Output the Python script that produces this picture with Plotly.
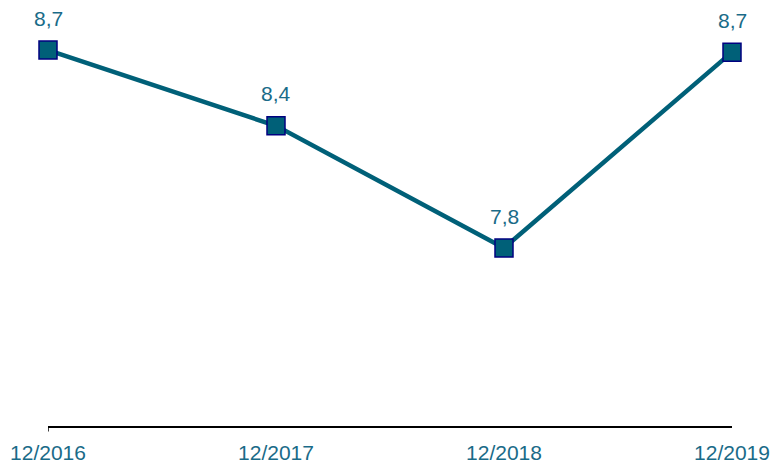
import plotly.graph_objects as go

categories = ["12/2016", "12/2017", "12/2018", "12/2019"]
values = [8.74, 8.38, 7.80, 8.73]

LINE = "#006078"
TEXT = "#1a6b88"
FONT = "Liberation Sans, Arial, sans-serif"

xs = list(range(len(categories)))

fig = go.Figure()
fig.add_trace(go.Scatter(
    x=xs, y=values,
    mode="lines+markers",
    line=dict(color=LINE, width=4.5),
    marker=dict(symbol="square", size=18, color=LINE, line=dict(color="#000080", width=1.5)),
    cliponaxis=False, hoverinfo="skip",
))
for x, v in zip(xs, values):
    fig.add_annotation(x=x, y=v, text=f"{v:.1f}".replace(".", ","), showarrow=False,
                       yshift=32, font=dict(family=FONT, size=21, color=TEXT))
fig.add_shape(type="line", xref="x", yref="paper", x0=0, x1=0, y0=0, y1=-0.013,
              line=dict(color="black", width=1.5))
fig.update_layout(
    width=774, height=463, separators=", ",
    margin=dict(l=48, r=42, t=10, b=37, autoexpand=False),
    paper_bgcolor="white", plot_bgcolor="white", showlegend=False,
    xaxis=dict(range=[0, 3], tickvals=xs, ticktext=categories, automargin=False,
               showline=True, linecolor="black", linewidth=1.5, showgrid=False, zeroline=False,
               ticks="", ticklabelstandoff=7,
               tickfont=dict(family=FONT, size=21, color=TEXT)),
    yaxis=dict(range=[6.955, 8.93], visible=False, showgrid=False, zeroline=False),
)
fig.write_html("out.html", config={"displayModeBar": False},
               post_script="document.body.style.margin='0';document.body.style.overflow='hidden';")
